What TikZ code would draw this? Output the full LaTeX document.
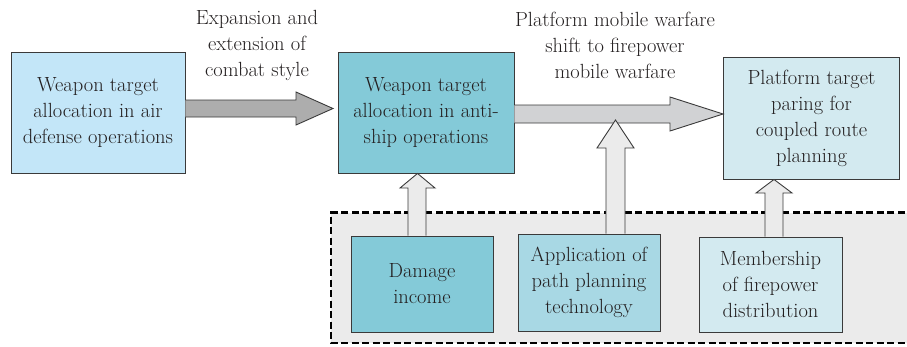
\documentclass[tikz,border=0pt]{standalone}
\definecolor{txt}{HTML}{231F20}
\definecolor{cA}{HTML}{C3E6F8}
\definecolor{cB}{HTML}{84CAD8}
\definecolor{cC}{HTML}{D3EAF0}
\definecolor{cP}{HTML}{A8D8E4}
\definecolor{reg}{HTML}{EBEBEB}
\definecolor{ar1}{HTML}{ADADAD}
\definecolor{ar2}{HTML}{D1D2D4}
\definecolor{edge}{HTML}{3A3A3A}
\begin{document}
\begin{tikzpicture}[x=1pt,y=-1pt,
  box/.style={draw=edge,line width=0.9pt,text=txt,align=center,inner sep=0pt,
     font=\fontsize{20.5}{26}\selectfont},
  lbl/.style={text=txt,align=center,inner sep=0pt,font=\fontsize{20.5}{26}\selectfont},
  barrow/.style={draw=edge,line width=0.9pt,line join=miter}]
\useasboundingbox (0,0) rectangle (907,346);
% region
\path[fill=reg] (331,212.5) rectangle (915,343);
\draw[line width=2.6pt,dash pattern=on 7pt off 3.5pt] (915,212.5) -- (331,212.5) -- (331,343) -- (915,343);
% boxes
\node[box,fill=cA,minimum width=174,minimum height=121] (A) at (98,112.5)
  {Weapon target\\allocation in air\\defense operations};
\node[box,fill=cB,minimum width=176,minimum height=121] (B) at (426,112.5)
  {Weapon target\\allocation in anti-\\ship operations};
\node[box,fill=cC,minimum width=176,minimum height=122] (C) at (811.5,118)
  {Platform target\\paring for\\coupled route\\planning};
\node[box,fill=cB,minimum width=142,minimum height=96] (D) at (422,284)
  {Damage\\income};
\node[box,fill=cP,minimum width=142,minimum height=97] (P) at (589,282.5)
  {Application of\\path planning\\technology};
\node[box,fill=cC,minimum width=143,minimum height=95] (M) at (770.5,284.5)
  {Membership\\of firepower\\distribution};
% labels
\node[lbl] (L1) at (257,45) {Expansion and\\extension of\\combat style};
\node[lbl] (L2) at (615,45) {Platform mobile warfare\\shift to firepower\\mobile warfare};
% horizontal arrows
\draw[barrow,fill=ar1] (A.east |- 0,100) -- (296,100) -- (296,92) -- (333,108.5)
  -- (296,125) -- (296,117) -- (A.east |- 0,117);
\draw[barrow,fill=ar2] (B.east |- 0,105) -- (670,105) -- (670,97) -- (C.west |- 0,114)
  -- (670,131) -- (670,123) -- (B.east |- 0,123);
% vertical arrows
\draw[barrow,fill=reg] (606,0 |- P.north) -- (606,148) -- (597,148) -- (615.5,120)
  -- (634,148) -- (625,148) -- (625,0 |- P.north);
\draw[barrow,fill=reg] (408,0 |- D.north) -- (408,188) -- (400,188) -- (417.5,0 |- B.south)
  -- (435,188) -- (426,188) -- (426,0 |- D.north);
\draw[barrow,fill=reg] (765,0 |- M.north) -- (765,193) -- (756,193) -- (774,0 |- C.south)
  -- (792,193) -- (783,193) -- (783,0 |- M.north);
\end{tikzpicture}
\end{document}
